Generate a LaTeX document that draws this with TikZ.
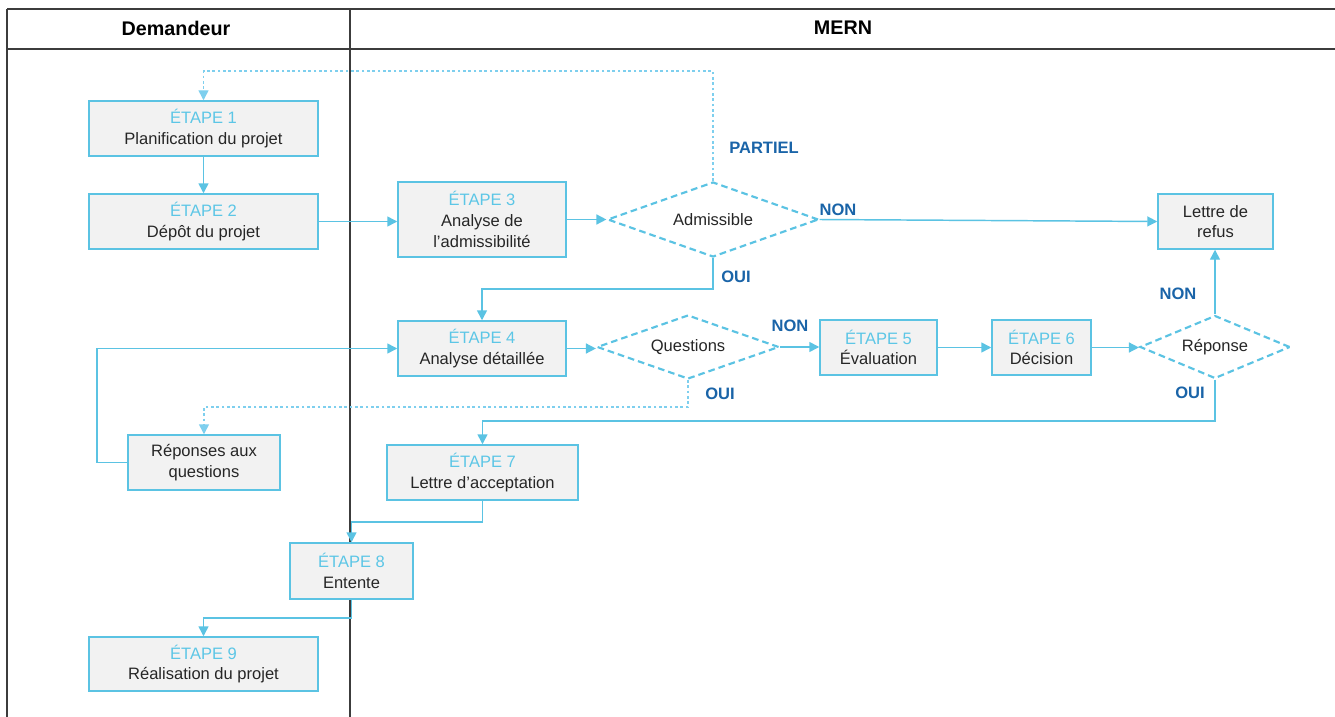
\documentclass[tikz,border=0pt]{standalone}
\usepackage{fontspec}
\setmainfont{Liberation Sans}
\usetikzlibrary{shapes.geometric,arrows.meta}
\definecolor{bline}{HTML}{5BC3E3}
\definecolor{etape}{HTML}{5CC6E6}
\definecolor{boxfill}{HTML}{F2F2F2}
\definecolor{lblue}{HTML}{1A64A8}
\definecolor{dotblue}{HTML}{7ECFEE}
\definecolor{frame}{HTML}{3C3C3C}
\tikzset{
  stepbox/.style={draw=bline, fill=boxfill, line width=1.1pt, rectangle, align=center,
    inner sep=0pt, font=\fontsize{12.4}{15.6}\selectfont, text=black!85},
  decis/.style={draw=bline, fill=white, line width=1.6pt, shape=diamond, aspect=3,
    inner sep=0pt, dash pattern=on 5pt off 3pt, font=\fontsize{12.4}{15.6}\selectfont, text=black!85},
  conn/.style={draw=bline, line width=1.1pt, -{Triangle[length=7.5pt,width=7.5pt]}},
  dotc/.style={draw=dotblue, line width=1.1pt, dash pattern=on 2pt off 2pt, -{Triangle[length=7.5pt,width=7.5pt]}},
  lab/.style={text=lblue, font=\bfseries\fontsize{12.4}{14}\selectfont, inner sep=0pt},
  head/.style={font=\bfseries\fontsize{14.8}{17}\selectfont, inner sep=0pt},
}
\newcommand{\etp}[1]{{\color{etape}ÉTAPE #1}}
\begin{document}
\begin{tikzpicture}[x=0.75pt,y=-0.75pt]
\useasboundingbox (0,0) rectangle (1335,717);
% frame
\draw[frame, line width=1.1pt] (7,9) -- (1335,9);
\draw[frame, line width=1.1pt] (7,49) -- (1335,49);
\draw[frame, line width=1.1pt] (7,9) -- (7,717);
\draw[frame, line width=1.1pt] (350,9) -- (350,717);
\node[head] (hdem) at (176,28) {Demandeur};
\node[head] (hmern) at (843,28) {MERN};

% boxes
\node[stepbox, minimum width=171.75pt, minimum height=41.25pt] (e1) at (203.5,128.5) {\etp{1}\\Planification du projet};
\node[stepbox, minimum width=171.75pt, minimum height=41.25pt] (e2) at (203.5,221.5) {\etp{2}\\Dépôt du projet};
\node[stepbox, minimum width=126pt, minimum height=56.25pt] (e3) at (482,219.5) {\etp{3}\\Analyse de\\l’admissibilité};
\node[decis, minimum width=158.25pt, minimum height=56.25pt] (adm) at (713,219.5) {Admissible};
\node[stepbox, minimum width=86.25pt, minimum height=41.25pt] (refus) at (1215.5,221.5) {Lettre de\\refus};
\node[stepbox, minimum width=126pt, minimum height=41.25pt] (e4) at (482,348.5) {\etp{4}\\Analyse détaillée};
\node[decis, minimum width=136.5pt, minimum height=48pt] (q) at (688,347) {Questions};
\node[stepbox, minimum width=87.75pt, minimum height=41.25pt] (e5) at (878.5,347.5) {\etp{5}\\Évaluation};
\node[stepbox, minimum width=74.25pt, minimum height=41.25pt] (e6) at (1041.5,347.5) {\etp{6}\\Décision};
\node[decis, minimum width=112.5pt, minimum height=47.25pt] (resp) at (1215,347) {Réponse};
\node[stepbox, minimum width=114pt, minimum height=41.25pt] (rq) at (204,462.5) {Réponses aux\\questions};
\node[stepbox, minimum width=143.25pt, minimum height=41.25pt] (e7) at (482.5,472.5) {\etp{7}\\Lettre d’acceptation};
\node[stepbox, minimum width=92.25pt, minimum height=42pt] (e8) at (351.5,571) {\etp{8}\\Entente};
\node[stepbox, minimum width=171.75pt, minimum height=40.5pt] (e9) at (203.5,664) {\etp{9}\\Réalisation du projet};

% helper coordinates
\coordinate (ptop) at (400,71);
\coordinate (oui1) at (600,289);
\coordinate (oui2) at (600,407);
\coordinate (ret) at (97,462.5);
\coordinate (oui3) at (800,421);
\coordinate (c7) at (420,522);
\coordinate (c8) at (300,618);

% connectors
\draw[conn] (e1) -- (e2);
\draw[conn] (e2.east) -- (e2.east -| e3.west);
\draw[conn] (e3) -- (adm);
\draw[conn] (adm.east) -- (refus.west);
\draw[dotc] (adm.north) |- (ptop) -| (e1.north);
\draw[conn] (adm.south) |- (oui1) -| (e4.north);
\draw[conn] (e4.east) -- (e4.east -| q.west);
\draw[conn] (q.east) -- (q.east -| e5.west);
\draw[dotc] (q.south) |- (oui2) -| (rq.north);
\draw[conn] (rq.west) -- (ret) |- (e4.west);
\draw[conn] (e5) -- (e6);
\draw[conn] (e6.east) -- (e6.east -| resp.west);
\draw[conn] (resp.north) -- (resp.north |- refus.south);
\draw[conn] (resp.south) |- (oui3) -| (e7.north);
\draw[conn] (e7.south) |- (c7) -| (e8.north);
\draw[conn] (e8.south) |- (c8) -| (e9.north);

% labels
\node[lab] (lpartiel) at (764,148) {PARTIEL};
\node[lab] (lnon1) at (838,210) {NON};
\node[lab] (loui1) at (736,277) {OUI};
\node[lab] (lnon2) at (790,326) {NON};
\node[lab] (loui2) at (720,394) {OUI};
\node[lab] (lnon3) at (1178,294) {NON};
\node[lab] (loui3) at (1190,393) {OUI};
\end{tikzpicture}
\end{document}
